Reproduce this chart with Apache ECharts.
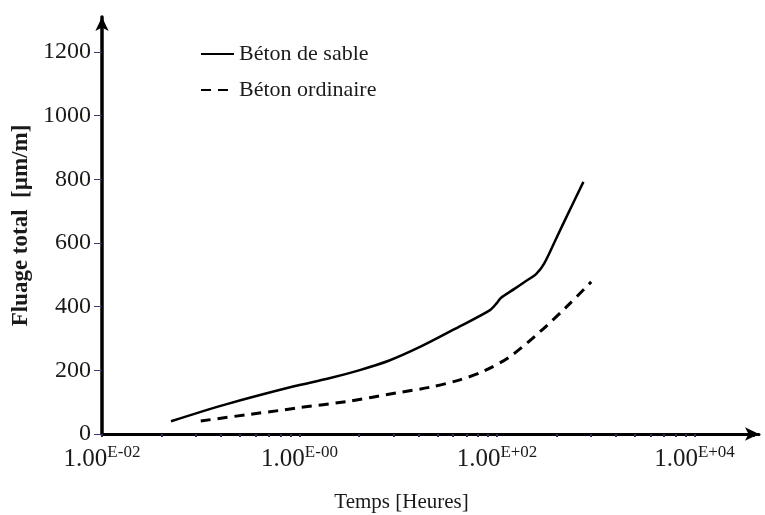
<!DOCTYPE html>
<html>
<head>
<meta charset="utf-8">
<script src="https://cdn.jsdelivr.net/npm/echarts@6/dist/echarts.min.js"></script>
<style>
  html, body { margin: 0; padding: 0; background: #fff; }
  #chart { width: 765px; height: 515px; }
</style>
</head>
<body>
<div id="chart"></div>
<script>
// Béton de sable (solid)
const sableHours = [0.05, 0.18, 0.86, 2, 4, 8, 17, 38, 85, 100, 110, 150, 200, 250, 300, 400, 500, 750];
const sableFluage = [40, 93, 149, 175, 200, 230, 275, 331, 389, 412, 428, 456, 482, 503, 535, 616, 679, 792];

// Béton ordinaire (dashed)
const ordHours = [0.1, 0.3, 0.7, 1, 3, 10, 21, 42, 75, 135, 272, 508, 900];
const ordFluage = [41, 61, 76, 83, 102, 130, 147, 170, 199, 243, 321, 400, 478];

const xLabelValues = [0.01, 1, 100, 10000];
const xTickValues = [
  0.01, 0.04, 0.09, 0.16, 0.25, 0.36, 0.49, 0.64, 0.81,
  1, 4, 9, 16, 25, 36, 49, 64, 81,
  100, 400, 900, 1600, 2500, 3600, 4900, 6400, 8100,
  10000, 40000
];
const yTickValues = [0, 200, 400, 600, 800, 1000, 1200];

const serif = '"Liberation Serif", "DejaVu Serif", serif';
const ink = '#1a1a1a';

function pairs(xs, ys) {
  return xs.map((x, i) => [x, ys[i]]);
}

function xLabel(v) {
  const e = Math.round(Math.log10(v));
  const sign = e > 0 ? '+' : '-';
  const digits = String(Math.abs(e)).padStart(2, '0');
  return '{a|1.00}{b|E' + sign + digits + '}';
}

const chart = echarts.init(document.getElementById('chart'), null, { renderer: 'canvas' });

chart.setOption({
  animation: false,
  backgroundColor: '#fff',
  textStyle: { fontFamily: serif, color: ink },
  grid: { left: 102, right: 6, top: 17, bottom: 81, containLabel: false, outerBoundsMode: 'none' },
  legend: {
    orient: 'vertical',
    left: 195,
    top: 38,
    itemWidth: 33,
    itemHeight: 14,
    itemGap: 14,
    itemStyle: { opacity: 0 },
    textStyle: { fontFamily: serif, fontSize: 22, color: ink },
    data: ['Béton de sable', 'Béton ordinaire'],
  },
  xAxis: {
    type: 'log',
    min: 0.01,
    max: 45000,
    name: 'Temps [Heures]',
    nameLocation: 'middle',
    nameGap: 58,
    nameTextStyle: { fontFamily: serif, fontSize: 21, color: ink, padding: [0, 58, 0, 0] },
    axisLine: {
      onZero: false,
      symbol: ['none', 'arrow'],
      symbolSize: [10, 14],
      lineStyle: { color: '#000', width: 3 },
    },
    axisTick: {
      show: true,
      length: 3,
      customValues: xTickValues,
      lineStyle: { color: '#2a2a55', width: 2 },
    },
    axisLabel: {
      customValues: xLabelValues,
      margin: 10,
      formatter: xLabel,
      rich: {
        a: { fontFamily: serif, fontSize: 25, color: ink, verticalAlign: 'bottom', lineHeight: 28 },
        b: { fontFamily: serif, fontSize: 17, color: ink, verticalAlign: 'top', lineHeight: 28, padding: [0, 0, 8, 0] },
      },
    },
    splitLine: { show: false },
    minorTick: { show: false },
  },
  yAxis: {
    type: 'value',
    min: 0,
    max: 1310,
    name: 'Fluage total  [µm/m]',
    nameLocation: 'middle',
    nameGap: 57,
    nameTextStyle: { fontFamily: serif, fontSize: 23, fontWeight: 'bold', color: ink },
    axisLine: {
      show: true,
      symbol: ['none', 'arrow'],
      symbolSize: [10, 14],
      lineStyle: { color: '#000', width: 3.5 },
    },
    axisTick: {
      show: true,
      length: 8,
      customValues: yTickValues,
      lineStyle: { color: '#3a3a7a', width: 1 },
    },
    axisLabel: {
      customValues: yTickValues,
      margin: 11,
      fontFamily: serif,
      fontSize: 24,
      color: ink,
      formatter: (v) => String(v),
    },
    splitLine: { show: false },
  },
  series: [
    {
      name: 'Béton de sable',
      type: 'line',
      symbol: 'none',
      smooth: 0.3,
      data: pairs(sableHours, sableFluage),
      lineStyle: { color: '#000', width: 2.5 },
      itemStyle: { color: '#000' },
    },
    {
      name: 'Béton ordinaire',
      type: 'line',
      symbol: 'none',
      smooth: 0.3,
      data: pairs(ordHours, ordFluage),
      lineStyle: { color: '#000', width: 3, type: [10, 7] },
      itemStyle: { color: '#000' },
    },
  ],
});
</script>
</body>
</html>
